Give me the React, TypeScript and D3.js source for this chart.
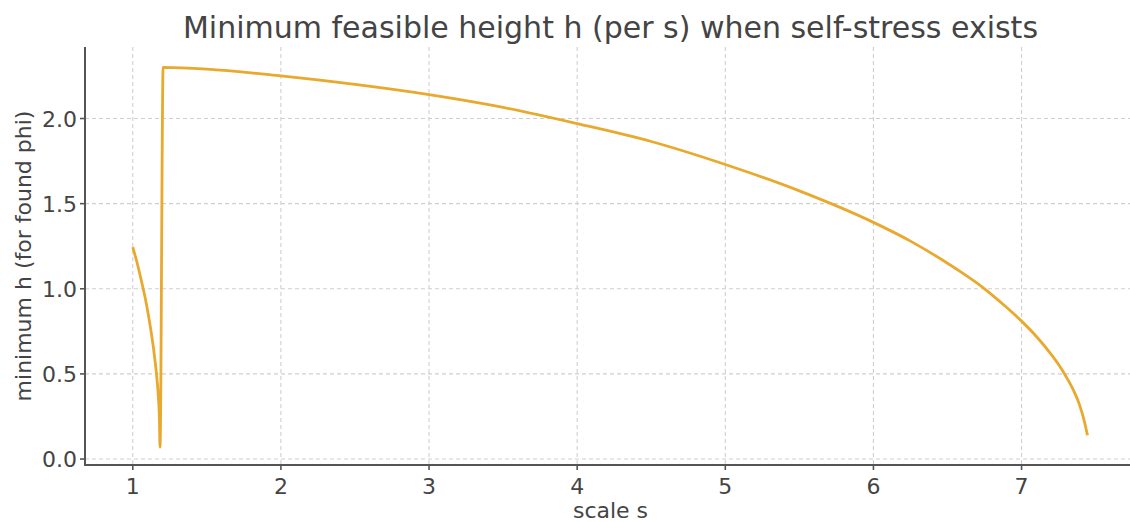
import React from "react";
import * as d3 from "d3";

// values
const leftS = [1.0, 1.03, 1.06, 1.09, 1.12, 1.14, 1.16, 1.17, 1.18, 1.184];
const leftH = [1.245, 1.15, 1.04, 0.92, 0.77, 0.65, 0.5, 0.4, 0.23, 0.07];
const rightS = [1.205, 1.5, 2.0, 2.5, 3.0, 3.5, 4.0, 4.5, 5.0, 5.5, 6.0, 6.25, 6.5, 6.6, 6.75, 6.9, 7.0, 7.1, 7.2, 7.25, 7.3, 7.35, 7.38, 7.4, 7.42, 7.445];
const rightH = [2.3, 2.29, 2.25, 2.2, 2.14, 2.065, 1.97, 1.865, 1.73, 1.575, 1.39, 1.28, 1.15, 1.093, 1.0, 0.89, 0.81, 0.72, 0.615, 0.555, 0.485, 0.405, 0.345, 0.295, 0.235, 0.14];
const xTicks = [1, 2, 3, 4, 5, 6, 7];
const yTicks = [0, 0.5, 1.0, 1.5, 2.0];

const W = 1130;
const H = 522;
const margin = { left: 85, right: -6, top: 47, bottom: 57 };
const textColor = "#444";
const spineColor = "#555";
const lineColor = "#e8a92e";
const font = "DejaVu Sans, sans-serif";

export default function App() {
  const points = [
    ...leftS.map((s, i) => ({ s, h: leftH[i] })),
    ...rightS.map((s, i) => ({ s, h: rightH[i] })),
  ];

  const x = d3.scaleLinear().domain([0.6775, 7.7725]).range([margin.left, W - margin.right]);
  const y = d3.scaleLinear().domain([-0.035, 2.42]).range([H - margin.bottom, margin.top]);

  const line = d3
    .line<{ s: number; h: number }>()
    .x(d => x(d.s))
    .y(d => y(d.h))
    .curve(d3.curveMonotoneX);

  const bottom = H - margin.bottom;
  const right = W - margin.right;

  return (
    <svg width={W} height={H} style={{ position: "absolute", left: 0, top: 0, background: "#fff" }}>
      {/* grid */}
      <g stroke="#cfcfcf" strokeWidth={1.1} strokeDasharray="4,3">
        {xTicks.map(t => (
          <line key={"gx" + t} x1={x(t)} x2={x(t)} y1={margin.top} y2={bottom} />
        ))}
        {yTicks.map(t => (
          <line key={"gy" + t} x1={margin.left} x2={right} y1={y(t)} y2={y(t)} />
        ))}
      </g>

      {/* data */}
      <path d={line(points) || ""} fill="none" stroke={lineColor} strokeWidth={2.8} strokeLinejoin="round" />

      {/* spines */}
      <g stroke={spineColor} strokeWidth={2}>
        <line x1={margin.left} x2={margin.left} y1={margin.top} y2={bottom + 1} />
        <line x1={margin.left - 1} x2={right} y1={bottom} y2={bottom} />
      </g>

      {/* axes */}
      <g fontFamily={font} fontSize={22} fill={textColor}>
        {xTicks.map(t => (
          <g key={"xt" + t}>
            <line x1={x(t)} x2={x(t)} y1={bottom} y2={bottom + 5} stroke={spineColor} strokeWidth={1.6} />
            <text x={x(t)} y={bottom + 29} textAnchor="middle">{t}</text>
          </g>
        ))}
        {yTicks.map(t => (
          <g key={"yt" + t}>
            <line x1={margin.left - 5} x2={margin.left} y1={y(t)} y2={y(t)} stroke={spineColor} strokeWidth={1.6} />
            <text x={margin.left - 8} y={y(t) + 8} textAnchor="end">{d3.format(".1f")(t)}</text>
          </g>
        ))}
        <text x={(margin.left + right) / 2} y={518} textAnchor="middle">scale s</text>
        <text
          transform={`translate(31, ${(margin.top + bottom) / 2}) rotate(-90)`}
          textAnchor="middle"
        >
          minimum h (for found phi)
        </text>
      </g>

      <text x={(margin.left + right) / 2} y={38} textAnchor="middle" fontFamily={font} fontSize={30} fill={textColor}>
        Minimum feasible height h (per s) when self-stress exists
      </text>
    </svg>
  );
}
